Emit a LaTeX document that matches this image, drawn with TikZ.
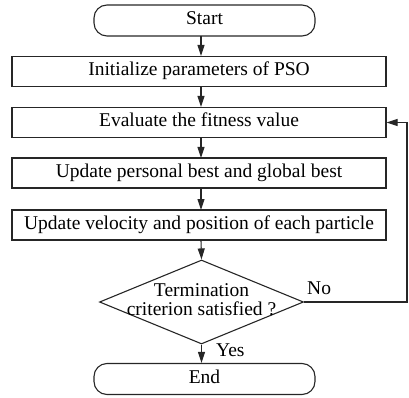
\documentclass[tikz,border=0pt]{standalone}
\usepackage{fontspec}
\setmainfont{Liberation Serif}
\usetikzlibrary{shapes.geometric,arrows.meta}
\begin{document}
\begin{tikzpicture}[x=1pt,y=-1pt,
  every node/.style={font=\fontsize{19.5}{18}\selectfont, text height=13pt, text depth=4pt},
  procbox/.style={draw=black!85, line width=1.1pt, minimum width=374pt, minimum height=30pt, inner sep=0pt},
  termbox/.style={draw=black!85, line width=1.1pt, rounded corners=13pt, minimum width=221pt, minimum height=31pt, inner sep=0pt},
  decbox/.style={draw=black!85, line width=1.1pt, diamond, aspect=2.43, minimum width=204pt, minimum height=84pt, inner sep=0pt},
  flow/.style={draw=black!85, line width=1.1pt, -{Triangle[length=11pt,width=7pt]}},
  plain/.style={draw=black!85, line width=1.1pt}
]
\useasboundingbox (0,0) rectangle (409,398);
\node[termbox] (start) at (204.5,20.5) {Start};
\node[procbox] (init) at (199,71.5) {Initialize parameters of PSO};
\node[procbox] (eval) at (199,122.5) {Evaluate the fitness value};
\node[procbox] (pbest) at (199,173) {Update personal best and global best};
\node[procbox] (vel) at (199,225) {Update velocity and position of each particle};
\node[decbox] (dec) at (201.5,302) {};
\node[align=center, font=\fontsize{19.5}{19}\selectfont, text height=, text depth=, inner sep=0pt] (dectext) at (201.5,300) {Termination\\criterion satisfied ?};
\node[termbox] (end) at (204.5,379) {End};
\coordinate (c1) at (407,302);
\coordinate (c2) at (407,122.5);
\draw[flow] (201,36) -- (201,56);
\draw[flow] (201,87) -- (201,107);
\draw[flow] (201,138) -- (201,158);
\draw[flow] (201,188) -- (201,210);
\draw[flow] (201,240) -- (dec.north);
\draw[flow] (dec.south) -- (end.north -| dec.south);
\draw[plain] (dec.east) -- (c1) -- (c2);
\draw[flow] (c2) -- (eval.east);
\node[anchor=south west, inner sep=0pt] (no) at (307,299) {No};
\node[anchor=west, inner sep=0pt] (yes) at (216,352) {Yes};
\end{tikzpicture}
\end{document}
